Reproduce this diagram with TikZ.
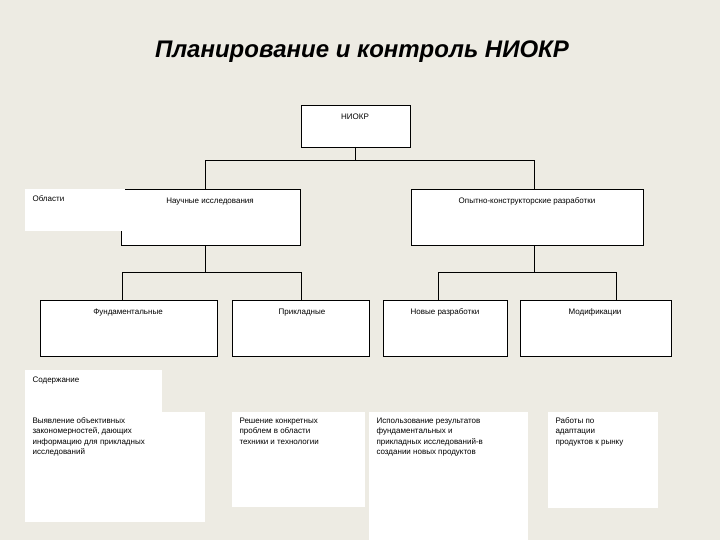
\documentclass[tikz,border=0pt]{standalone}
\usepackage{fontspec}
\setmainfont{Liberation Sans}
\definecolor{bgcol}{HTML}{EDEBE3}
\tikzset{
  box/.style={draw, fill=white, thin},
  pad/.style={fill=white},
  lbl/.style={font=\fontsize{8}{10}\selectfont, anchor=north},
  txt/.style={font=\fontsize{8}{10.5}\selectfont, anchor=north west, align=left},
}
\begin{document}
\begin{tikzpicture}[x=1pt,y=-1pt]
\fill[bgcol] (0,0) rectangle (720,540);
\node (title) at (362,52) {\fontsize{24}{27}\selectfont\bfseries\itshape Планирование и контроль НИОКР};

% tree boxes
\draw[box] (301,105) rectangle (410,147);
\node[lbl] (niokr) at (355,110) {НИОКР};
\draw[box] (121,189) rectangle (300,245);
\node[lbl] (nauch) at (210,194) {Научные исследования};
\draw[box] (411,189) rectangle (643,245);
\node[lbl] (okr) at (527,194) {Опытно-конструкторские разработки};
\draw[box] (40,300) rectangle (217,356);
\node[lbl] (fund) at (128,305) {Фундаментальные};
\draw[box] (232,300) rectangle (369,356);
\node[lbl] (prikl) at (302,305) {Прикладные};
\draw[box] (383,300) rectangle (507,356);
\node[lbl] (nov) at (445,305) {Новые разработки};
\draw[box] (520,300) rectangle (671,356);
\node[lbl] (mod) at (595,305) {Модификации};

% connectors
\coordinate (c0) at (355,147);
\draw (c0) -- (355,160) -- (205,160) -- (205,189);
\draw (355,160) -- (534,160) -- (534,189);
\draw (205,245) -- (205,272) -- (122,272) -- (122,300);
\draw (205,272) -- (301,272) -- (301,300);
\draw (534,245) -- (534,272) -- (438,272) -- (438,300);
\draw (534,272) -- (616,272) -- (616,300);

% side labels
\fill[pad] (25,189) rectangle (125,231);
\node[txt] (obl) at (29,192) {Области};
\fill[pad] (25,370) rectangle (162,412);
\node[txt] (sod) at (29,373) {Содержание};
\fill[pad] (25,412) rectangle (205,522);
\node[txt] (t1) at (29,414) {Выявление объективных\\закономерностей, дающих\\информацию для прикладных\\исследований};
\fill[pad] (232,412) rectangle (365,507);
\node[txt] (t2) at (236,414) {Решение конкретных\\проблем в области\\техники и технологии};
\fill[pad] (369,412) rectangle (528,540);
\node[txt] (t3) at (373,414) {Использование результатов\\фундаментальных и\\прикладных исследований-в\\создании новых продуктов};
\fill[pad] (548,412) rectangle (658,508);
\node[txt] (t4) at (552,414) {Работы по\\адаптации\\продуктов к рынку};
\end{tikzpicture}
\end{document}
